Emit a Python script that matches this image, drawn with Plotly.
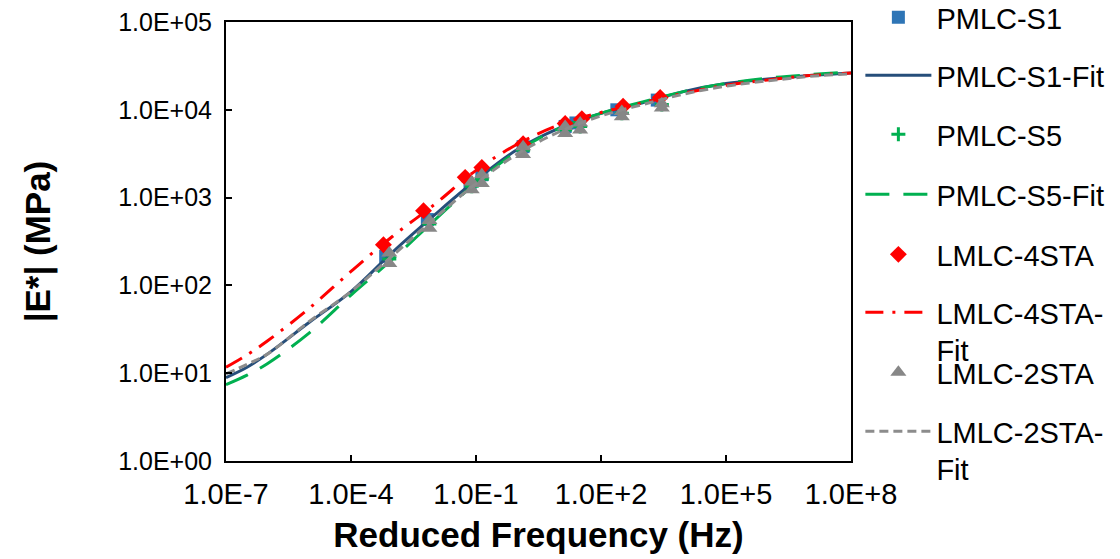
import plotly.graph_objects as go

# ---------------- data ----------------
fit_freq = [1e-7, 3.2e-7, 1e-6, 1e-5, 1e-4, 1e-3, 1e-2, 1e-1, 1e0, 1e1, 1e2, 1e3, 1e4, 1e5, 1e6, 1e7, 1e8]

s1_fit = [8.9, 11.7, 16.6, 38.0, 85.1, 240, 631, 1585, 3548, 6166, 9120, 12020, 16220, 19950, 22390, 24550, 26300]
s5_fit = [7.4, 9.5, 12.9, 28.8, 77.6, 200, 550, 1479, 3388, 6166, 9120, 12300, 16220, 19950, 22910, 25120, 26920]
sta4_fit = [11.7, 16.2, 23.4, 55.0, 144.5, 363, 832, 2042, 4074, 6761, 9333, 12020, 15490, 19050, 21880, 24550, 26300]
sta2_fit = [9.8, 12.6, 16.6, 38.9, 85.1, 219, 575, 1445, 3162, 5623, 8511, 11480, 15140, 18620, 21380, 23990, 25700]

s1_freq = [6.8e-4, 6.8e-3, 0.072, 0.138, 1.35, 13.8, 25, 240, 2240]
s1_E = [214, 562, 1380, 1820, 3800, 6460, 7080, 10000, 12900]

s5_freq = [8.3e-4, 7.6e-3, 0.079, 0.138, 1.35, 13.8, 31.6, 316, 2880]
s5_E = [200, 500, 1350, 1620, 3470, 5890, 6460, 9120, 11480]

sta4_freq = [6.0e-4, 5.5e-3, 0.055, 0.138, 1.35, 13.8, 34.7, 339, 2630]
sta4_E = [290, 710, 1700, 2200, 4100, 7000, 7900, 11000, 13800]

sta2_freq = [8.3e-4, 7.6e-3, 0.079, 0.138, 1.35, 13.8, 31.6, 316, 2880,
             8.3e-4, 7.6e-3, 0.079, 0.138, 1.35, 13.8, 31.6, 316, 2880]
sta2_E = [234, 550, 1510, 1820, 3800, 6460, 7080, 9550, 11750,
          178, 447, 1230, 1445, 3090, 5370, 5890, 8320, 10470]

x_tickvals = [1e-7, 1e-4, 1e-1, 1e2, 1e5, 1e8]
x_ticktext = ["1.0E-7", "1.0E-4", "1.0E-1", "1.0E+2", "1.0E+5", "1.0E+8"]
y_tickvals = [1, 10, 100, 1000, 10000, 100000]
y_ticktext = ["1.0E+00", "1.0E+01", "1.0E+02", "1.0E+03", "1.0E+04", "1.0E+05"]

names = ["PMLC-S1", "PMLC-S1-Fit", "PMLC-S5", "PMLC-S5-Fit",
         "LMLC-4STA", "LMLC-4STA-<br>Fit", "LMLC-2STA", "LMLC-2STA-<br>Fit"]

FONT = "Liberation Sans, Arial, sans-serif"

fig = go.Figure()
fig.add_trace(go.Scatter(x=s1_freq, y=s1_E, mode="markers", name=names[0],
                         marker=dict(symbol="square", size=13, color="#2E75B6"),
                         legend="legend"))
fig.add_trace(go.Scatter(x=fit_freq, y=s1_fit, mode="lines", name=names[1],
                         line=dict(color="#264E7A", width=3, shape="spline"),
                         legend="legend2"))
fig.add_trace(go.Scatter(x=s5_freq, y=s5_E, mode="markers", name=names[2],
                         marker=dict(symbol="cross-thin", size=10, color="#00B050",
                                     line=dict(color="#00B050", width=3)),
                         legend="legend3"))
fig.add_trace(go.Scatter(x=fit_freq, y=s5_fit, mode="lines", name=names[3],
                         line=dict(color="#00B050", width=3, dash="24px,14px", shape="spline"),
                         legend="legend4"))
fig.add_trace(go.Scatter(x=sta4_freq, y=sta4_E, mode="markers", name=names[4],
                         marker=dict(symbol="diamond", size=13, color="#FF0000"),
                         legend="legend5"))
fig.add_trace(go.Scatter(x=fit_freq, y=sta4_fit, mode="lines", name=names[5],
                         line=dict(color="#FF0000", width=3, dash="18px,9px,3px,9px", shape="spline"),
                         legend="legend6"))
fig.add_trace(go.Scatter(x=sta2_freq, y=sta2_E, mode="markers", name=names[6],
                         marker=dict(symbol="triangle-up", size=14, color="#878787"),
                         legend="legend7"))
fig.add_trace(go.Scatter(x=fit_freq, y=sta2_fit, mode="lines", name=names[7],
                         line=dict(color="#8C8C8C", width=3, dash="9px,5px", shape="spline"),
                         legend="legend8"))

# legend item centres (pixels from top) -> paper coordinates
TOP, BOTTOM = 22, 461
H = BOTTOM - TOP
item_centres = [20, 78, 137, 197, 257, 315, 375, 434]
legend_layout = {}
for i, c in enumerate(item_centres):
    key = "legend" if i == 0 else f"legend{i+1}"
    legend_layout[key] = dict(
        x=1.015, xanchor="left",
        y=(BOTTOM - (c - 28)) / H, yanchor="top",
        valign="top",
        font=dict(family=FONT, size=29, color="#000000"),
        bgcolor="rgba(0,0,0,0)", borderwidth=0,
        itemwidth=66,
    )

axis_common = dict(
    showline=True, linecolor="#000000", linewidth=2, mirror=True,
    ticks="inside", ticklen=6, tickwidth=2, tickcolor="#000000",
    showgrid=False, zeroline=False,
)

fig.update_layout(
    width=1120, height=559,
    margin=dict(l=226, r=269, t=22, b=98, autoexpand=False),
    paper_bgcolor="#FFFFFF", plot_bgcolor="#FFFFFF",
    showlegend=True,
    xaxis=dict(type="log", range=[-7, 8], tickvals=x_tickvals, ticktext=x_ticktext,
               ticklabelstandoff=6,
               tickfont=dict(family=FONT, size=29, color="#000000"),
               title=dict(text="<b>Reduced Frequency (Hz)</b>", standoff=14,
                          font=dict(family=FONT, size=35, color="#000000")),
               **axis_common),
    yaxis=dict(type="log", range=[0, 5], tickvals=y_tickvals, ticktext=y_ticktext,
               ticklabelstandoff=7,
               tickfont=dict(family=FONT, size=25, color="#000000"),
               title=dict(text="<b>|E*| (MPa)</b>", standoff=57,
                          font=dict(family=FONT, size=35, color="#000000")),
               **axis_common),
    **legend_layout,
)

fig.write_html("out.html")
